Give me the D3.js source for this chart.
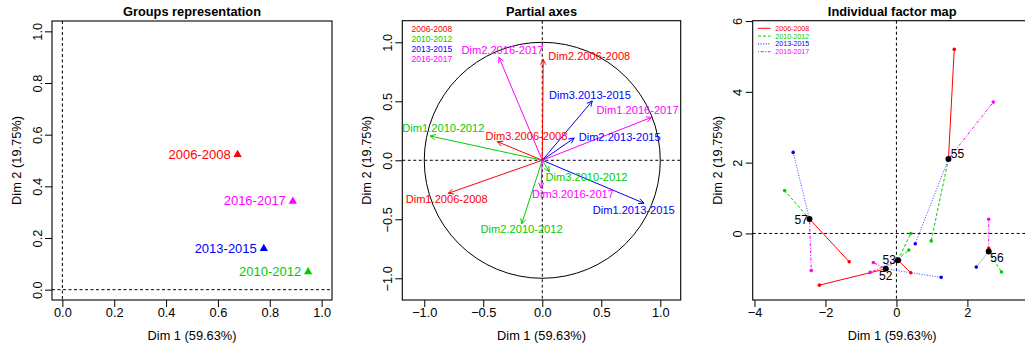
<!DOCTYPE html>
<html>
<head>
<meta charset="utf-8">
<script src="https://cdn.jsdelivr.net/npm/d3@7"></script>
<style>
  body { margin: 0; background: #fff; }
  svg { display: block; font-family: "Liberation Sans", Arial, Helvetica, sans-serif; }
</style>
</head>
<body>
<svg id="chart" width="1025" height="349"></svg>
<script>
// ---- data ----------------------------------------------------------------
const groups = ["2006-2008", "2010-2012", "2013-2015", "2016-2017"];
const groupColors = ["#FF0000", "#00CD00", "#0000FF", "#FF00FF"];

// Groups representation (coordinates of each group)
const groupDim1 = [0.676, 0.948, 0.777, 0.889];
const groupDim2 = [0.525, 0.071, 0.161, 0.344];

// Partial axes (correlations of each group's own axes)
const axisNames = ["Dim1.2006-2008", "Dim2.2006-2008", "Dim3.2006-2008",
                   "Dim1.2010-2012", "Dim2.2010-2012", "Dim3.2010-2012",
                   "Dim1.2013-2015", "Dim2.2013-2015", "Dim3.2013-2015",
                   "Dim1.2016-2017", "Dim2.2016-2017", "Dim3.2016-2017"];
const axisGroup = [0, 0, 0, 1, 1, 1, 2, 2, 2, 3, 3, 3];
const axisDim1 = [-0.797, 0.008, -0.381, -0.951, -0.175, 0.060, 0.862, 0.271, 0.424, 0.927, -0.367, -0.011];
const axisDim2 = [-0.280, 0.856, 0.158, 0.206, -0.540, -0.097, -0.364, 0.189, 0.503, 0.364, 0.873, -0.237];
// where each axis name is written (same units)
const axisLabelDim1 = [-0.810, 0.398, -0.134, -0.838, -0.175, 0.375, 0.775, 0.656, 0.404, 0.808, -0.337, 0.260];
const axisLabelDim2 = [-0.330, 0.884, 0.204, 0.271, -0.580, -0.144, -0.423, 0.195, 0.555, 0.426, 0.935, -0.286];

// Individual factor map
const individuals = ["52", "53", "55", "56", "57"];
const indDim1 = [-0.30, 0.04, 1.465, 2.60, -2.45];
const indDim2 = [-1.00, -0.754, 2.10, -0.51, 0.41];
// partial points: one row per group, one column per individual
const partialDim1 = [
  [-2.17, 0.405, 1.63, 2.60, -1.33],
  [0.35, 0.405, 0.98, 2.96, -3.15],
  [1.26, 0.085, 0.53, 2.25, -2.91],
  [-0.65, -0.74, 2.73, 2.60, -2.40]
];
const partialDim2 = [
  [-1.46, -1.11, 5.20, -0.42, -0.80],
  [-0.47, 0.00, -0.21, -1.09, 1.21],
  [-1.24, -0.76, -0.29, -0.95, 2.29],
  [-0.82, -1.10, 3.71, 0.40, -1.05]
];

const xTitle = "Dim 1 (59.63%)";
const yTitle = "Dim 2 (19.75%)";

// ---- drawing helpers -------------------------------------------------------
const svg = d3.select("#chart");
svg.append("rect").attr("width", 1025).attr("height", 349).attr("fill", "#fff");

const AXIS_FONT = 12.8;

function makePanel(cfg) {
  const x = d3.scaleLinear().domain(cfg.xDomain).range([cfg.left, cfg.right]);
  const y = d3.scaleLinear().domain(cfg.yDomain).range([cfg.bottom, cfg.top]);
  const g = svg.append("g");

  // bottom axis
  const ax = g.append("g")
    .attr("transform", `translate(0,${cfg.bottom})`)
    .call(d3.axisBottom(x).tickValues(cfg.xTicks).tickFormat(cfg.fmt).tickSize(7).tickSizeOuter(0));
  ax.attr("font-size", null).attr("font-family", null);
  ax.select(".domain").remove();
  ax.selectAll(".tick line").attr("stroke", "#000");
  ax.selectAll(".tick text")
    .attr("y", 16.7).attr("dy", null)
    .attr("font-size", AXIS_FONT).attr("fill", "#000");

  // left axis, labels parallel to the axis
  const ay = g.append("g")
    .attr("transform", `translate(${cfg.left},0)`)
    .call(d3.axisLeft(y).tickValues(cfg.yTicks).tickFormat(cfg.fmt).tickSize(7).tickSizeOuter(0));
  ay.attr("font-size", null).attr("font-family", null);
  ay.select(".domain").remove();
  ay.selectAll(".tick line").attr("stroke", "#000");
  ay.selectAll(".tick text")
    .attr("x", 0).attr("y", -10.4).attr("dy", null)
    .attr("transform", "rotate(-90)")
    .attr("text-anchor", "middle")
    .attr("font-size", AXIS_FONT).attr("fill", "#000");

  // reference lines through the origin
  g.append("line")
    .attr("x1", cfg.left).attr("x2", cfg.right)
    .attr("y1", y(0)).attr("y2", y(0))
    .attr("stroke", "#000").attr("stroke-dasharray", "3,2.5");
  g.append("line")
    .attr("x1", x(0)).attr("x2", x(0))
    .attr("y1", cfg.top).attr("y2", cfg.bottom)
    .attr("stroke", "#000").attr("stroke-dasharray", "3,2.5");

  // frame
  g.append("rect")
    .attr("x", cfg.left).attr("y", cfg.top)
    .attr("width", cfg.right - cfg.left).attr("height", cfg.bottom - cfg.top)
    .attr("fill", "none").attr("stroke", "#000").attr("stroke-width", 1.1);

  // titles
  const cx = (cfg.left + cfg.right) / 2;
  const tx = cfg.titleCenter != null ? cfg.titleCenter : cx;
  g.append("text").attr("x", tx).attr("y", 15.8)
    .attr("text-anchor", "middle").attr("font-weight", "bold")
    .attr("font-size", 12.8).text(cfg.title);
  g.append("text").attr("x", tx).attr("y", 339.5)
    .attr("text-anchor", "middle").attr("font-size", AXIS_FONT).text(xTitle);
  g.append("text")
    .attr("transform", `translate(${cfg.left - 31},${(cfg.top + cfg.bottom) / 2}) rotate(-90)`)
    .attr("text-anchor", "middle").attr("font-size", AXIS_FONT).text(yTitle);

  return { g, x, y };
}

// ---- panel 1: groups representation ---------------------------------------
{
  const p = makePanel({
    left: 52, right: 332, top: 21, bottom: 300,
    xDomain: [-0.04, 1.04], yDomain: [-0.04, 1.04],
    xTicks: [0, 0.2, 0.4, 0.6, 0.8, 1.0], yTicks: [0, 0.2, 0.4, 0.6, 0.8, 1.0],
    fmt: d3.format(".1f"), title: "Groups representation"
  });
  const tri = d3.symbol().type(d3.symbolTriangle).size(30);
  groups.forEach((name, i) => {
    const px = p.x(groupDim1[i]), py = p.y(groupDim2[i]);
    p.g.append("path").attr("d", tri())
      .attr("transform", `translate(${px},${py + 0.6})`)
      .attr("fill", groupColors[i]);
    p.g.append("text")
      .attr("x", px - 7).attr("y", py).attr("dy", "0.35em")
      .attr("text-anchor", "end").attr("font-size", 13)
      .attr("fill", groupColors[i]).text(name);
  });
}

// ---- panel 2: partial axes -------------------------------------------------
{
  const p = makePanel({
    left: 402.3, right: 680.7, top: 20.7, bottom: 300,
    xDomain: [-1.186, 1.173], yDomain: [-1.184, 1.183],
    xTicks: [-1, -0.5, 0, 0.5, 1], yTicks: [-1, -0.5, 0, 0.5, 1],
    fmt: d3.format(".1f"), title: "Partial axes"
  });
  // correlation circle
  p.g.append("ellipse")
    .attr("cx", p.x(0)).attr("cy", p.y(0))
    .attr("rx", p.x(1) - p.x(0)).attr("ry", p.y(0) - p.y(1))
    .attr("fill", "none").attr("stroke", "#000").attr("stroke-width", 1);

  const headLen = 6, headAng = Math.PI / 7;
  axisNames.forEach((name, i) => {
    const col = groupColors[axisGroup[i]];
    const x0 = p.x(0), y0 = p.y(0);
    const x1 = p.x(axisDim1[i]), y1 = p.y(axisDim2[i]);
    const th = Math.atan2(y1 - y0, x1 - x0);
    const path = d3.path();
    path.moveTo(x0, y0); path.lineTo(x1, y1);
    path.moveTo(x1 - headLen * Math.cos(th - headAng), y1 - headLen * Math.sin(th - headAng));
    path.lineTo(x1, y1);
    path.lineTo(x1 - headLen * Math.cos(th + headAng), y1 - headLen * Math.sin(th + headAng));
    p.g.append("path").attr("d", path.toString())
      .attr("fill", "none").attr("stroke", col).attr("stroke-width", 1);
  });
  axisNames.forEach((name, i) => {
    p.g.append("text")
      .attr("x", p.x(axisLabelDim1[i])).attr("y", p.y(axisLabelDim2[i])).attr("dy", "0.35em")
      .attr("text-anchor", "middle").attr("font-size", 11.1)
      .attr("fill", groupColors[axisGroup[i]]).text(name);
  });
  // legend
  groups.forEach((name, i) => {
    p.g.append("text")
      .attr("x", 411.5).attr("y", 29.3 + i * 9.9).attr("dy", "0.35em")
      .attr("font-size", 8.5).attr("fill", groupColors[i]).text(name);
  });
}

// ---- panel 3: individual factor map ---------------------------------------
{
  const p = makePanel({
    left: 752.7, right: 1032.7, top: 20.7, bottom: 300,
    xDomain: [-4.05, 3.84], yDomain: [-1.88, 6.01],
    xTicks: [-4, -2, 0, 2], yTicks: [0, 2, 4, 6],
    fmt: d3.format("d"), title: "Individual factor map", titleCenter: 892.2
  });
  const dashes = [null, "3,2", "1,1.6", "1,1.6,3,1.6"];
  const lineOpacity = [1, 1, 0.75, 1];

  partialDim1.forEach((row, gi) => {
    row.forEach((v, ii) => {
      p.g.append("line")
        .attr("x1", p.x(indDim1[ii])).attr("y1", p.y(indDim2[ii]))
        .attr("x2", p.x(v)).attr("y2", p.y(partialDim2[gi][ii]))
        .attr("stroke", groupColors[gi]).attr("stroke-width", 1)
        .attr("stroke-opacity", lineOpacity[gi])
        .attr("stroke-dasharray", dashes[gi]);
    });
  });
  partialDim1.forEach((row, gi) => {
    row.forEach((v, ii) => {
      p.g.append("circle")
        .attr("cx", p.x(v)).attr("cy", p.y(partialDim2[gi][ii]))
        .attr("r", 1.8).attr("fill", groupColors[gi]);
    });
  });

  // label placement of individuals: anchor, dx, dy (baseline)
  const indLabelPlace = {
    "52": ["middle", 0, 11],
    "53": ["end", -2, 3.8],
    "55": ["start", 2.4, -1.4],
    "56": ["start", 1.6, 10],
    "57": ["end", -1.6, 4.6]
  };
  individuals.forEach((name, i) => {
    const px = p.x(indDim1[i]), py = p.y(indDim2[i]);
    p.g.append("circle").attr("cx", px).attr("cy", py).attr("r", 3).attr("fill", "#000");
    const [anc, dx, dy] = indLabelPlace[name];
    p.g.append("text")
      .attr("x", px + dx).attr("y", py + dy)
      .attr("text-anchor", anc).attr("font-size", 12).attr("fill", "#000")
      .text(name);
  });

  // legend
  groups.forEach((name, i) => {
    const yy = 28.3 + i * 7.8;
    p.g.append("line")
      .attr("x1", 758).attr("x2", 770.5).attr("y1", yy).attr("y2", yy)
      .attr("stroke", groupColors[i]).attr("stroke-width", 1)
      .attr("stroke-dasharray", dashes[i]);
    p.g.append("text")
      .attr("x", 775.3).attr("y", yy).attr("dy", "0.35em")
      .attr("font-size", 7.1).attr("fill", groupColors[i]).text(name);
  });
}
</script>
</body>
</html>
